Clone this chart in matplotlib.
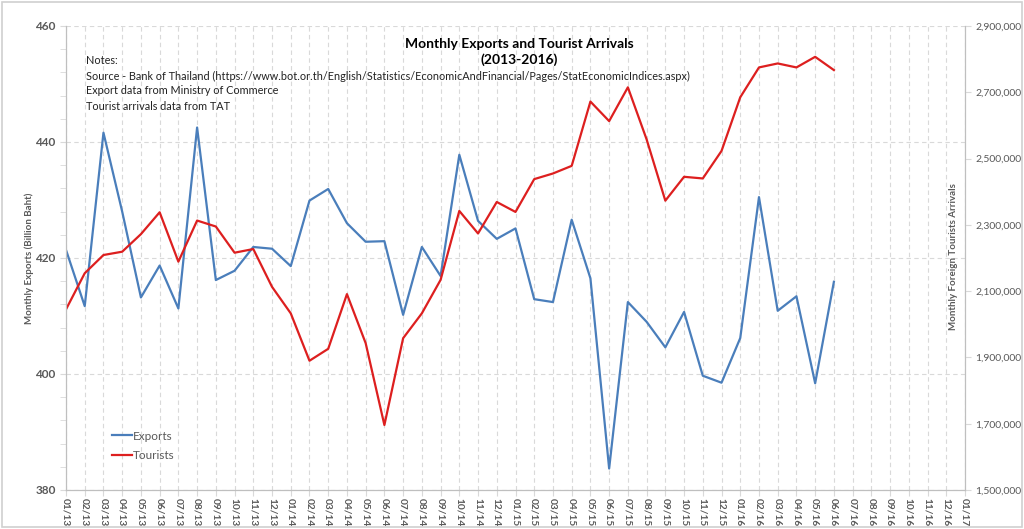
import matplotlib
matplotlib.use("Agg")
import matplotlib.pyplot as plt
from matplotlib.ticker import FuncFormatter, MultipleLocator, FixedLocator
from matplotlib.patches import Rectangle

plt.rcParams['font.family'] = ['Lato', 'DejaVu Sans']

months = [f"{m:02d}/{y:02d}" for y in range(13, 17) for m in range(1, 13)] + ["01/17"]

exports = [421.4, 411.7, 441.6, 428.0, 413.2, 418.7, 411.3, 442.5, 416.2, 417.8,
           421.9, 421.6, 418.6, 429.9, 431.9, 426.0, 422.8, 422.9, 410.2, 421.9,
           416.9, 437.8, 426.4, 423.3, 425.1, 412.9, 412.4, 426.6, 416.5, 383.7,
           412.4, 409.0, 404.6, 410.7, 399.7, 398.5, 406.2, 430.5, 410.9, 413.4,
           398.4, 415.9]

tourists = [2045000, 2154000, 2209000, 2219000, 2272000, 2338000, 2189000, 2313000,
            2295000, 2216000, 2227000, 2113000, 2033000, 1890000, 1926000, 2091000,
            1943000, 1696000, 1958000, 2033000, 2134000, 2342000, 2274000, 2369000,
            2339000, 2438000, 2455000, 2478000, 2672000, 2613000, 2715000, 2558000,
            2373000, 2445000, 2440000, 2523000, 2685000, 2775000, 2787000, 2775000,
            2807000, 2767000]

right_ticks = [1500000, 1700000, 1900000, 2100000, 2300000, 2500000, 2700000, 2900000]

blue = '#4A7EBB'
red = '#DD1F1F'
gray_text = '#595959'
grid_c = '#D9D9D9'

fig = plt.figure(figsize=(10.24, 5.29), dpi=100)
fig.patches.append(Rectangle((0.002, 0.003), 0.996, 0.994, transform=fig.transFigure,
                             fill=False, edgecolor='#D0D0D0', linewidth=1.2))
ax = fig.add_axes([66/1024, 1-490/529, (965-66)/1024, (490-26)/529])
ax2 = ax.twinx()

x = list(range(len(months)))
ax.set_xlim(0, len(months)-1)
ax.set_ylim(380, 460)
ax2.set_ylim(1500000, 2900000)

ln1, = ax.plot(range(len(exports)), exports, color=blue, lw=1.6, label='Exports')
ln2, = ax2.plot(range(len(tourists)), tourists, color=red, lw=1.6, label='Tourists')

ax.set_xticks(x)
ax.set_xticklabels(months, rotation=270, fontsize=7.3, color=gray_text, fontweight='bold')
ax.yaxis.set_major_locator(MultipleLocator(20))
ax.yaxis.set_minor_locator(MultipleLocator(4))
ax.tick_params(axis='y', which='both', colors=grid_c, labelcolor=gray_text, labelsize=8.5, length=4)
ax.tick_params(axis='x', colors=grid_c, labelcolor=gray_text, length=4, pad=2)
for lab in ax.get_yticklabels():
    lab.set_fontweight('bold')

ax2.yaxis.set_major_locator(FixedLocator(right_ticks))
ax2.yaxis.set_major_formatter(FuncFormatter(lambda v, p: f"{int(v):,}"))
ax2.tick_params(axis='y', colors=grid_c, labelcolor=gray_text, labelsize=7.5, length=4)
ax2.grid(False)

ax.grid(True, axis='both', which='major', linestyle=(0, (4, 3)), color=grid_c, lw=0.8)
ax.set_axisbelow(True)
for a in (ax, ax2):
    a.spines['top'].set_visible(False)
    a.spines['left'].set_color('#BFBFBF')
    a.spines['bottom'].set_color('#BFBFBF')
    a.spines['right'].set_color('#BFBFBF')

fig.text(29/1024, 1-258/529, 'Monthly Exports (Billion Baht)', rotation=90,
         fontsize=7, color=gray_text, fontweight='bold', ha='center', va='center')
fig.text(953/1024, 1-257/529, 'Monthly Foreign Tourists Arrivals', rotation=90,
         fontsize=7, color=gray_text, fontweight='bold', ha='center', va='center')

fig.text(519/1024, 1-44/529, 'Monthly Exports and Tourist Arrivals', fontsize=10,
         fontweight='bold', ha='center', va='center', color='black')
fig.text(519/1024, 1-60/529, '(2013-2016)', fontsize=10,
         fontweight='bold', ha='center', va='center', color='black')

notes = ["Notes:",
         "Source - Bank of Thailand (https://www.bot.or.th/English/Statistics/EconomicAndFinancial/Pages/StatEconomicIndices.aspx)",
         "Export data from Ministry of Commerce",
         "Tourist arrivals data from TAT"]
for i, t in enumerate(notes):
    fig.text(86/1024, 1-(61+15*i)/529, t, fontsize=7.85, ha='left', va='center', color='#222222')

ax2.legend([ln1, ln2], ['Exports', 'Tourists'], loc='upper left',
           bbox_to_anchor=(101/1024, 1-420/529), bbox_transform=fig.transFigure,
           frameon=False, fontsize=8.5, handlelength=1.7, handletextpad=0.1,
           labelspacing=0.75, labelcolor=gray_text)

fig.savefig('out.png', dpi=100)
